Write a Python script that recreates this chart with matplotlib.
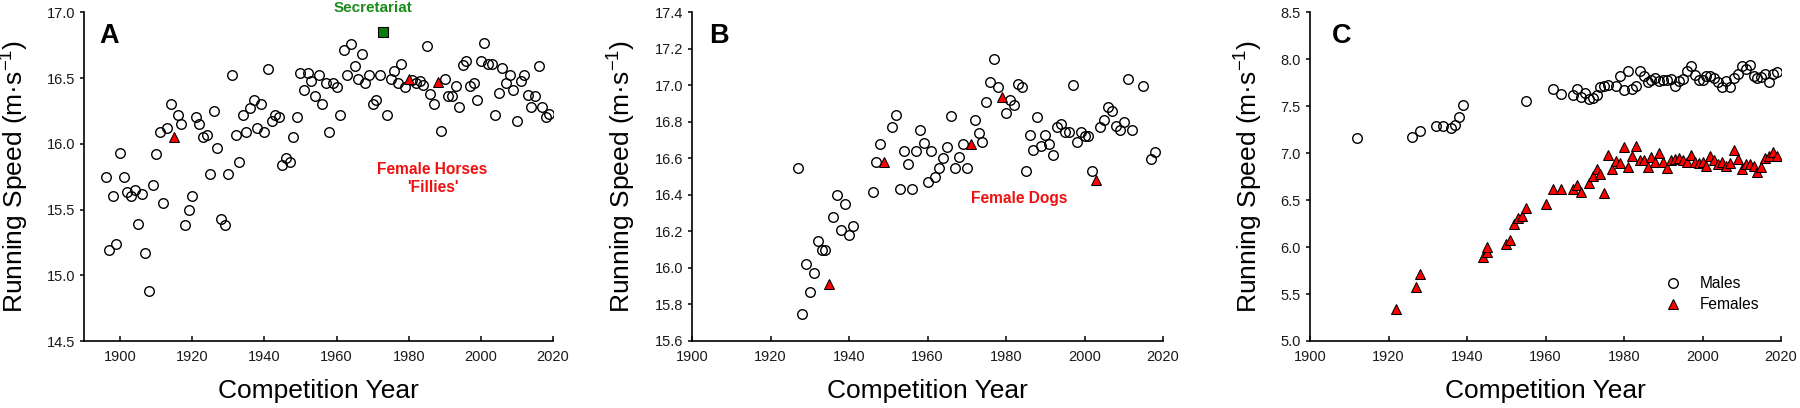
import matplotlib
matplotlib.use("Agg")
import matplotlib.pyplot as plt
from matplotlib.lines import Line2D

plt.rcParams['font.family'] = ['Liberation Sans', 'DejaVu Sans']
plt.rcParams['mathtext.fontset'] = 'custom'
plt.rcParams['mathtext.rm'] = 'Liberation Sans'
plt.rcParams['mathtext.default'] = 'regular'

# ---------------- Panel A: horses ----------------
a_years = [1896, 1897, 1898, 1899, 1900, 1901, 1902, 1903, 1904, 1905, 1906, 1907, 1908, 1909,
           1910, 1911, 1912, 1913, 1914, 1916, 1917, 1918, 1919, 1920, 1921, 1922, 1923, 1924,
           1925, 1926, 1927, 1928, 1929, 1930, 1931, 1932, 1933, 1934, 1935, 1936, 1937, 1938,
           1939, 1940, 1941, 1942, 1943, 1944, 1945, 1946, 1947, 1948, 1949, 1950, 1951, 1952,
           1953, 1954, 1955, 1956, 1957, 1958, 1959, 1960, 1961, 1962, 1963, 1964, 1965, 1966,
           1967, 1968, 1969, 1970, 1971, 1972, 1974, 1975, 1976, 1977, 1978, 1979, 1981, 1982,
           1983, 1984, 1985, 1986, 1987, 1989, 1990, 1991, 1992, 1993, 1994, 1995, 1996, 1997,
           1998, 1999, 2000, 2001, 2002, 2003, 2004, 2005, 2006, 2007, 2008, 2009, 2010, 2011,
           2012, 2013, 2014, 2015, 2016, 2017, 2018, 2019]
a_speed = [15.75, 15.19, 15.60, 15.24, 15.93, 15.75, 15.63, 15.60, 15.65, 15.39, 15.62, 15.17, 14.88, 15.69,
           15.92, 16.09, 15.55, 16.12, 16.30, 16.22, 16.15, 15.38, 15.50, 15.60, 16.20, 16.15, 16.05, 16.07,
           15.77, 16.25, 15.97, 15.43, 15.38, 15.77, 16.52, 16.07, 15.86, 16.22, 16.09, 16.27, 16.33, 16.12,
           16.30, 16.09, 16.57, 16.17, 16.22, 16.20, 15.84, 15.89, 15.86, 16.05, 16.20, 16.54, 16.41, 16.54,
           16.48, 16.36, 16.52, 16.30, 16.46, 16.09, 16.46, 16.43, 16.22, 16.71, 16.52, 16.76, 16.59, 16.49,
           16.68, 16.46, 16.52, 16.30, 16.33, 16.52, 16.22, 16.49, 16.55, 16.46, 16.61, 16.43, 16.485, 16.46,
           16.48, 16.45, 16.74, 16.38, 16.30, 16.10, 16.49, 16.36, 16.36, 16.44, 16.28, 16.60, 16.63, 16.44,
           16.46, 16.33, 16.63, 16.77, 16.61, 16.61, 16.22, 16.39, 16.58, 16.46, 16.52, 16.41, 16.17, 16.48,
           16.52, 16.37, 16.28, 16.36, 16.59, 16.28, 16.20, 16.23]
a_fillies_years = [1915, 1980, 1988]
a_fillies_speed = [16.05, 16.495, 16.47]
a_secretariat_year = [1973]
a_secretariat_speed = [16.85]

# ---------------- Panel B: dogs ----------------
b_years = [1927, 1928, 1929, 1930, 1931, 1932, 1933, 1934, 1936, 1937, 1938, 1939, 1940, 1941,
           1946, 1947, 1948, 1951, 1952, 1953, 1954, 1955, 1956, 1957, 1958, 1959, 1960, 1961,
           1962, 1963, 1964, 1965, 1966, 1967, 1968, 1969, 1970, 1972, 1973, 1974, 1975, 1976,
           1977, 1978, 1980, 1981, 1982, 1983, 1984, 1985, 1986, 1987, 1988, 1989, 1990, 1991,
           1992, 1993, 1994, 1995, 1996, 1997, 1998, 1999, 2000, 2001, 2002, 2004, 2005, 2006,
           2007, 2008, 2009, 2010, 2011, 2012, 2015, 2017, 2018]
b_speed = [16.545, 15.75, 16.02, 15.87, 15.975, 16.15, 16.10, 16.10, 16.28, 16.40, 16.21, 16.35, 16.18, 16.23,
           16.415, 16.58, 16.68, 16.77, 16.84, 16.435, 16.64, 16.57, 16.43, 16.64, 16.755, 16.685, 16.47, 16.64,
           16.50, 16.55, 16.60, 16.66, 16.83, 16.55, 16.61, 16.68, 16.545, 16.81, 16.74, 16.69, 16.91, 17.02,
           17.145, 16.99, 16.85, 16.92, 16.89, 17.01, 16.99, 16.53, 16.73, 16.645, 16.825, 16.67, 16.73, 16.68,
           16.62, 16.77, 16.79, 16.745, 16.745, 17.00, 16.69, 16.745, 16.72, 16.72, 16.53, 16.77, 16.81, 16.88,
           16.86, 16.78, 16.755, 16.80, 17.036, 16.755, 16.996, 16.596, 16.636]
b_female_years = [1935, 1949, 1971, 1979, 2003]
b_female_speed = [15.91, 16.58, 16.68, 16.935, 16.48]

# ---------------- Panel C: humans ----------------
c_male_years = [1912, 1926, 1928, 1932, 1934, 1936, 1937, 1938, 1939, 1955, 1962, 1964, 1967, 1968,
                1969, 1970, 1971, 1972, 1973, 1974, 1975, 1976, 1978, 1979, 1980, 1981, 1982, 1983,
                1984, 1985, 1986, 1987, 1988, 1989, 1990, 1991, 1992, 1993, 1994, 1995, 1996, 1997,
                1998, 1999, 2000, 2001, 2002, 2003, 2004, 2005, 2006, 2007, 2008, 2009, 2010, 2011,
                2012, 2013, 2014, 2015, 2016, 2017, 2018, 2019]
c_male_speed = [7.16, 7.175, 7.24, 7.29, 7.29, 7.27, 7.30, 7.39, 7.51, 7.555, 7.68, 7.627, 7.62, 7.68,
                7.60, 7.644, 7.577, 7.59, 7.62, 7.70, 7.714, 7.728, 7.714, 7.822, 7.67, 7.875, 7.68, 7.72,
                7.875, 7.82, 7.76, 7.78, 7.80, 7.77, 7.78, 7.78, 7.79, 7.71, 7.77, 7.79, 7.875, 7.928,
                7.83, 7.78, 7.78, 7.82, 7.82, 7.80, 7.76, 7.70, 7.77, 7.70, 7.80, 7.84, 7.93, 7.90,
                7.94, 7.82, 7.80, 7.81, 7.84, 7.76, 7.84, 7.86]
c_female_years = [1922, 1927, 1928, 1944, 1945, 1945, 1950, 1951, 1952, 1953, 1954, 1955, 1960, 1962,
                  1964, 1967, 1968, 1969, 1971, 1972, 1973, 1974, 1975, 1976, 1977, 1978, 1979, 1980,
                  1981, 1982, 1983, 1984, 1985, 1986, 1987, 1988, 1989, 1990, 1991, 1992, 1993, 1994,
                  1995, 1996, 1997, 1998, 1999, 2000, 2001, 2002, 2003, 2004, 2005, 2006, 2007, 2008,
                  2009, 2010, 2011, 2012, 2013, 2014, 2015, 2016, 2017, 2018, 2019]
c_female_speed = [5.337, 5.578, 5.713, 5.898, 5.95, 6.00, 6.03, 6.08, 6.245, 6.307, 6.33, 6.413, 6.455, 6.615,
                  6.615, 6.615, 6.661, 6.59, 6.679, 6.757, 6.828, 6.778, 6.579, 6.98, 6.828, 6.92, 6.892, 7.069,
                  6.856, 6.97, 7.076, 6.927, 6.93, 6.856, 6.96, 6.91, 7.00, 6.91, 6.84, 6.93, 6.94, 6.95,
                  6.93, 6.91, 6.98, 6.91, 6.90, 6.91, 6.863, 6.97, 6.93, 6.89, 6.91, 6.86, 6.90, 7.034,
                  6.94, 6.83, 6.885, 6.885, 6.86, 6.80, 6.85, 6.95, 6.965, 7.01, 6.965]

xticks = [1900, 1920, 1940, 1960, 1980, 2000, 2020]
a_yticks = [14.5, 15.0, 15.5, 16.0, 16.5, 17.0]
b_yticks = [15.6, 15.8, 16.0, 16.2, 16.4, 16.6, 16.8, 17.0, 17.2, 17.4]
c_yticks = [5.0, 5.5, 6.0, 6.5, 7.0, 7.5, 8.0, 8.5]

RED = '#ff0000'
GREEN = '#0a7d0a'
TXT_RED = '#f01010'
TXT_GREEN = '#1a8c1a'

fig = plt.figure(figsize=(18, 4.08), dpi=100)
bottom = 1 - 341 / 408
height = (341 - 12.3) / 408
axA = fig.add_axes([84 / 1800, bottom, 469 / 1800, height])
axB = fig.add_axes([692 / 1800, bottom, 471 / 1800, height])
axC = fig.add_axes([1310 / 1800, bottom, 471 / 1800, height])

circ = dict(marker='o', linestyle='none', ms=6.9, mfc='none', mec='black', mew=1.0)
tri = dict(marker='^', linestyle='none', ms=7.0, mfc=RED, mec='black', mew=0.75)


def style(ax, xlim, yticks, letter, lab_x, letter_x):
    ax.set_xlim(*xlim)
    ax.set_ylim(yticks[0], yticks[-1])
    ax.set_xticks(xticks)
    ax.set_yticks(yticks)
    ax.set_yticklabels([f"{v:.1f}" for v in yticks])
    for s in ['top', 'right']:
        ax.spines[s].set_visible(False)
    for s in ['left', 'bottom']:
        ax.spines[s].set_linewidth(1.2)
    ax.tick_params(axis='x', direction='in', length=3.4, width=1.1, pad=6.5,
                   labelsize=10.5, labelcolor='#1a1a1a')
    ax.tick_params(axis='y', direction='out', length=3.0, width=1.1, pad=3.5,
                   labelsize=10.5, labelcolor='#1a1a1a')
    ax.set_xlabel('Competition Year', fontsize=19)
    ax.set_ylabel('Running Speed (m·s$^{-1}$)', fontsize=19)
    ax.xaxis.set_label_coords(0.5, -0.1156)
    ax.yaxis.set_label_coords(lab_x, 0.5)
    ax.text(letter_x, 0.9075, letter, transform=ax.transAxes, fontsize=19.5,
            fontweight='bold', va='baseline', ha='left')


# Panel A
axA.plot(a_years, a_speed, **circ)
axA.plot(a_fillies_years, a_fillies_speed, **tri)
axA.plot(a_secretariat_year, a_secretariat_speed, marker='s', linestyle='none', ms=7.0,
         mfc=GREEN, mec='black', mew=0.8)
style(axA, (1890, 2020), a_yticks, 'A', -0.114, 0.033)
axA.text(1970, 17.0, 'Secretariat', color=TXT_GREEN, fontsize=11, fontweight='bold',
         ha='center', va='baseline', clip_on=False)
axA.text(1986.6, 15.77, 'Female Horses', color=TXT_RED, fontsize=11.2, fontweight='bold',
         ha='center', va='baseline')
axA.text(1986.6, 15.636, "'Fillies'", color=TXT_RED, fontsize=11.2, fontweight='bold',
         ha='center', va='baseline')

# Panel B
axB.plot(b_years, b_speed, **circ)
axB.plot(b_female_years, b_female_speed, **tri)
style(axB, (1900, 2020), b_yticks, 'B', -0.114, 0.037)
axB.text(1983.3, 16.354, 'Female Dogs', color=TXT_RED, fontsize=11.2, fontweight='bold',
         ha='center', va='baseline')

# Panel C
axC.plot(c_male_years, c_male_speed, **circ)
axC.plot(c_female_years, c_female_speed, **tri)
style(axC, (1900, 2020), c_yticks, 'C', -0.095, 0.046)
handles = [Line2D([], [], **circ), Line2D([], [], **tri)]
axC.legend(handles, ['Males', 'Females'], loc='upper left', bbox_to_anchor=(0.755, 0.197),
           frameon=False, fontsize=11.2, handlelength=1.0, handletextpad=1.2,
           labelspacing=0.38, borderpad=0, borderaxespad=0)

fig.savefig('out.png', dpi=100)
